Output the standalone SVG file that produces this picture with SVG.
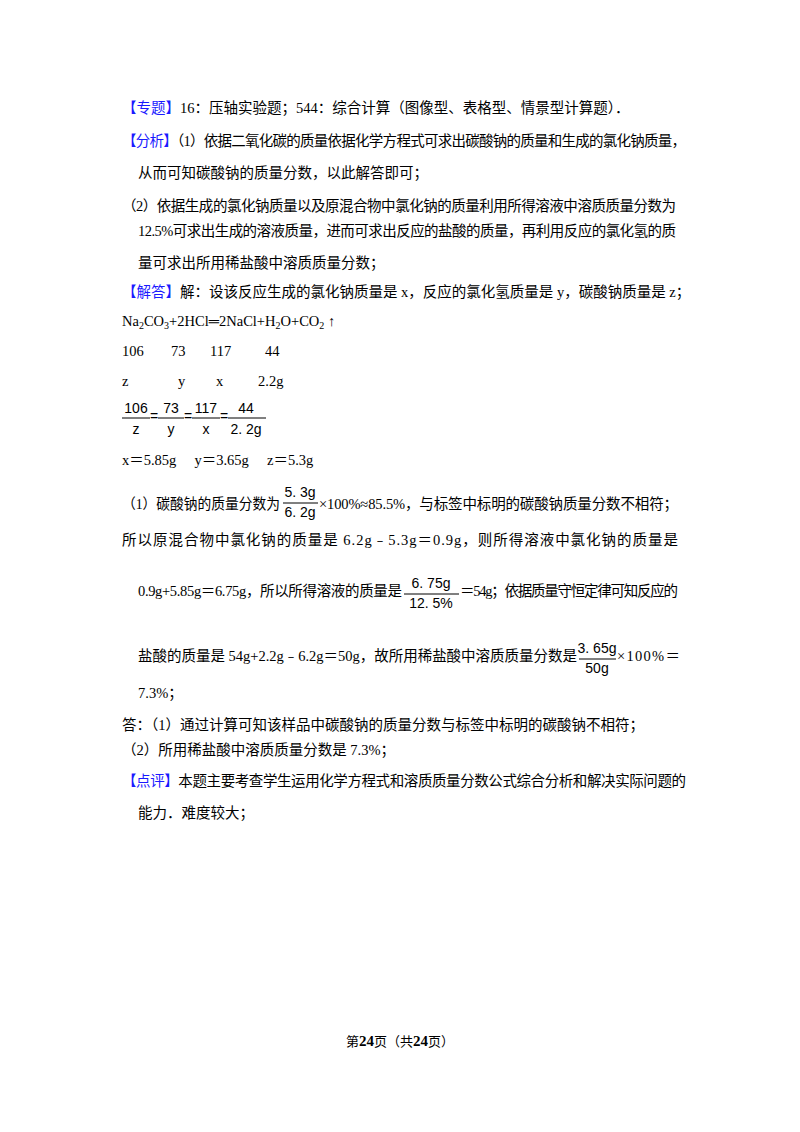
<svg xmlns="http://www.w3.org/2000/svg" width="800" height="1132" viewBox="0 0 800 1132">
<style>
text{font-family:"Liberation Serif","Noto Sans CJK SC",serif;font-size:14.5px;fill:#000}
.b{fill:#1a1aff}
.f{font-family:"Liberation Sans",sans-serif;font-size:14px}
.ft{font-size:13px}
line{stroke:#000;stroke-width:1}
</style>
<rect width="800" height="1132" fill="#fff"/>
<g id="text">
<text x="122" y="113"><tspan class="b">【专题】</tspan>16：压轴实验题；544：综合计算（图像型、表格型、情景型计算题）．</text>
<text x="122" y="146" textLength="564" lengthAdjust="spacing"><tspan class="b">【分析】</tspan>（1）依据二氧化碳的质量依据化学方程式可求出碳酸钠的质量和生成的氯化钠质量，</text>
<text x="138" y="178">从而可知碳酸钠的质量分数，以此解答即可；</text>
<text x="122" y="211" textLength="554" lengthAdjust="spacing">（2）依据生成的氯化钠质量以及原混合物中氯化钠的质量利用所得溶液中溶质质量分数为</text>
<text x="138" y="236" textLength="538" lengthAdjust="spacing">12.5%可求出生成的溶液质量，进而可求出反应的盐酸的质量，再利用反应的氯化氢的质</text>
<text x="138" y="268">量可求出所用稀盐酸中溶质质量分数；</text>
<text x="122" y="297"><tspan class="b">【解答】</tspan>解：设该反应生成的氯化钠质量是 x，反应的氯化氢质量是 y，碳酸钠质量是 z；</text>
<text x="122" y="326">Na<tspan font-size="10" dy="3">2</tspan><tspan dy="-3">CO</tspan><tspan font-size="10" dy="3">3</tspan><tspan dy="-3">+2HCl</tspan><tspan font-weight="bold">═</tspan>2NaCl+H<tspan font-size="10" dy="3">2</tspan><tspan dy="-3">O+CO</tspan><tspan font-size="10" dy="3">2</tspan><tspan dy="-3"> ↑</tspan></text>
<text x="122" y="356">106</text><text x="171" y="356">73</text><text x="210" y="356">117</text><text x="265" y="356">44</text>
<text x="122" y="386">z</text><text x="178" y="386">y</text><text x="216" y="386">x</text><text x="258" y="386">2.2g</text>
<g class="frac">
<text class="f" x="136" y="413" text-anchor="middle">106</text><line x1="122" y1="418" x2="150" y2="418"/><text class="f" x="136" y="434" text-anchor="middle">z</text>
<text class="f" x="154" y="421" text-anchor="middle">=</text>
<text class="f" x="171" y="413" text-anchor="middle">73</text><line x1="158" y1="418" x2="184" y2="418"/><text class="f" x="171" y="434" text-anchor="middle">y</text>
<text class="f" x="188" y="421" text-anchor="middle">=</text>
<text class="f" x="206" y="413" text-anchor="middle">117</text><line x1="192" y1="418" x2="220" y2="418"/><text class="f" x="206" y="434" text-anchor="middle">x</text>
<text class="f" x="224" y="421" text-anchor="middle">=</text>
<text class="f" x="246" y="413" text-anchor="middle">44</text><line x1="228" y1="418" x2="266" y2="418"/><text class="f" x="246" y="434" text-anchor="middle">2. 2g</text>
</g>
<text x="122" y="465" xml:space="preserve">x＝5.85g     y＝3.65g     z＝5.3g</text>
<text x="122" y="509" textLength="158" lengthAdjust="spacingAndGlyphs">（1）碳酸钠的质量分数为</text>
<text class="f" x="300" y="497" text-anchor="middle">5. 3g</text><line x1="283" y1="503" x2="318" y2="503"/><text class="f" x="300" y="517" text-anchor="middle">6. 2g</text>
<text x="319" y="509" textLength="359" lengthAdjust="spacing">×100%≈85.5%，与标签中标明的碳酸钠质量分数不相符；</text>
<text x="122" y="545" textLength="556" lengthAdjust="spacing">所以原混合物中氯化钠的质量是 6.2g﹣5.3g＝0.9g，则所得溶液中氯化钠的质量是</text>
<text x="138" y="596" textLength="264" lengthAdjust="spacing">0.9g+5.85g＝6.75g，所以所得溶液的质量是</text>
<text class="f" x="431" y="588" text-anchor="middle">6. 75g</text><line x1="404" y1="594" x2="459" y2="594"/><text class="f" x="431" y="608" text-anchor="middle">12. 5%</text>
<text x="460" y="596" textLength="218" lengthAdjust="spacing">＝54g；依据质量守恒定律可知反应的</text>
<text x="138" y="661" textLength="439" lengthAdjust="spacing">盐酸的质量是 54g+2.2g﹣6.2g＝50g，故所用稀盐酸中溶质质量分数是</text>
<text class="f" x="597" y="653" text-anchor="middle">3. 65g</text><line x1="579" y1="659" x2="616" y2="659"/><text class="f" x="597" y="673" text-anchor="middle">50g</text>
<text x="617" y="661" textLength="63" lengthAdjust="spacing">×100%＝</text>
<text x="138" y="698">7.3%；</text>
<text x="122" y="730">答：（1）通过计算可知该样品中碳酸钠的质量分数与标签中标明的碳酸钠不相符；</text>
<text x="122" y="755">（2）所用稀盐酸中溶质质量分数是 7.3%；</text>
<text x="122" y="786" textLength="564" lengthAdjust="spacing"><tspan class="b">【点评】</tspan>本题主要考查学生运用化学方程式和溶质质量分数公式综合分析和解决实际问题的</text>
<text x="138" y="818">能力．难度较大；</text>
<text class="ft" x="400" y="1046" text-anchor="middle">第<tspan font-weight="bold" font-size="15">24</tspan>页（共<tspan font-weight="bold" font-size="15">24</tspan>页）</text>
</g>
</svg>
